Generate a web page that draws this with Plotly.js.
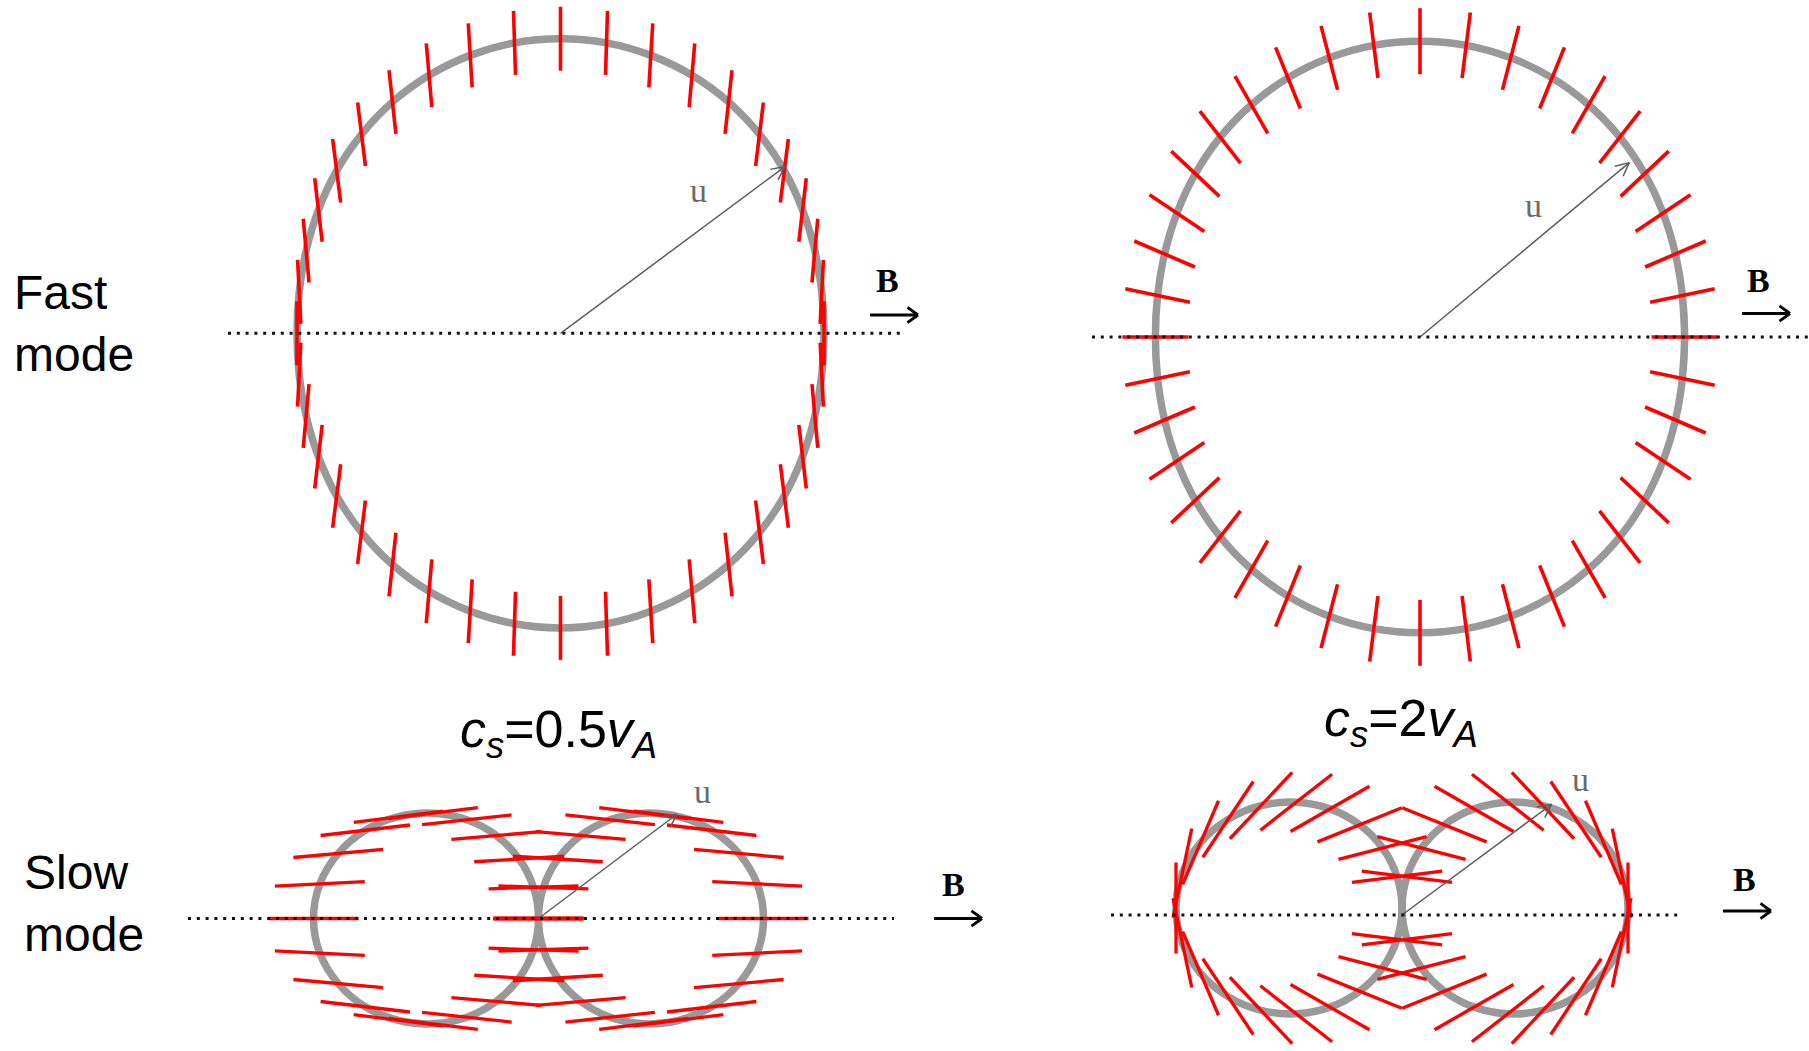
<!DOCTYPE html>
<html><head><meta charset="utf-8">
<script src="https://cdn.plot.ly/plotly-3.0.1.min.js"></script>
<style>html,body{margin:0;padding:0;background:#fff;overflow:hidden}#chart{width:1809px;height:1051px}</style>
</head><body><div id="chart"></div>
<script>
// ---- data ----
// polar angle of the samples (degrees from B), first quadrant; other quadrants by mirror symmetry
const thetaDeg = [0, 9, 18, 27, 36, 45, 54, 63, 72, 81, 90];

// fast mode, cs = 0.5 vA : phase speed (units of vA) and displacement direction (deg)
const fastLowSpeed = [1.000, 1.004, 1.015, 1.031, 1.050, 1.068, 1.085, 1.099, 1.109, 1.116, 1.118];
const fastLowDir   = [90, 87.1, 84.8, 83.3, 82.8, 83.0, 83.8, 85.0, 86.5, 88.2, 90];
// fast mode, cs = 2 vA
const fastHighSpeed = [2.000, 2.008, 2.030, 2.062, 2.099, 2.136, 2.169, 2.198, 2.219, 2.232, 2.236];
const fastHighDir   = [0, 11.9, 23.2, 33.7, 43.2, 52.0, 60.2, 68.0, 75.5, 82.8, 90];
// slow mode, cs = 0.5 vA
const slowLowSpeed = [0.500, 0.492, 0.468, 0.432, 0.385, 0.331, 0.271, 0.207, 0.139, 0.070, 0];
const slowLowDir   = [0, -2.9, -5.2, -6.7, -7.2, -7.0, -6.2, -5.0, -3.5, -1.8, 0];
// slow mode, cs = 2 vA (no mark at the origin)
const slowHighSpeed = [1.000, 0.984, 0.937, 0.864, 0.771, 0.662, 0.542, 0.413, 0.279, 0.140, 0];
const slowHighDir   = [90, -78.1, -66.8, -56.3, -46.8, -38.0, -29.8, -22.0, -14.5, -7.2, null];

// the u vectors: direction (deg) and length (units of vA)
const uAngleDeg = [36.6, 39.8, 37.0, 36.5];
const uLength   = [1.061, 2.059, 0.385, 0.824];

const rowLabels = ['Fast<br>mode', 'Slow<br>mode'];
const caseLabels = ['<i>c</i><sub><i>s</i></sub>=0.5<i>v</i><sub><i>A</i></sub>',
                    '<i>c</i><sub><i>s</i></sub>=2<i>v</i><sub><i>A</i></sub>'];
const vecLabel = 'u';
const fieldLabel = 'B';

// ---- layout / styling ----
const W = 1809, H = 1051;
const PX = v => v / W, PY = v => 1 - v / H;

const panels = [
  {xa:'x',  ya:'y',  ox:560.5, oy:333.3, s:263.5, tick:64, tw:3.6, kind:'fast', speed:fastLowSpeed,  dir:fastLowDir,
   dot:[228, 903, 333.3], tailPx:0, uLab:[698, 190], bLab:[887.5, 280], bArr:[918, 315]},
  {xa:'x2', ya:'y2', ox:1420,  oy:337,   s:132.3, tick:66, tw:3.6, kind:'fast', speed:fastHighSpeed, dir:fastHighDir,
   dot:[1092, 1809, 337], tailPx:0, uLab:[1533, 205], bLab:[1758.5, 280], bArr:[1790, 313.5]},
  {xa:'x3', ya:'y3', ox:538.5, oy:918.5, s:450,   tick:90, tw:3.3, kind:'slow', speed:slowLowSpeed,  dir:slowLowDir,
   dot:[188, 894, 918.5], tailPx:0, uLab:[702, 791], bLab:[953, 884], bArr:[982, 918.5]},
  {xa:'x4', ya:'y4', ox:1402,  oy:908,   s:226,   tick:91, tw:3.3, kind:'slow', speed:slowHighSpeed, dir:slowHighDir,
   dot:[1111, 1682, 915], tailPx:7, uLab:[1580, 779], bLab:[1744, 879], bArr:[1771, 911]}
];

const rad = d => d * Math.PI / 180;
const neg = v => v == null ? null : -v;

function buildBranches(speed, dir, kind) {
  const n = thetaDeg.length;
  if (kind === 'fast') {
    const loop = [];
    for (let i = 0; i < n; i++) loop.push({th: thetaDeg[i], r: speed[i], phi: dir[i]});
    for (let i = n - 2; i >= 0; i--) loop.push({th: 180 - thetaDeg[i], r: speed[i], phi: dir[i] == null ? null : 180 - dir[i]});
    for (let i = 1; i < n; i++) loop.push({th: 180 + thetaDeg[i], r: speed[i], phi: dir[i]});
    for (let i = n - 2; i >= 0; i--) loop.push({th: 360 - thetaDeg[i], r: speed[i], phi: neg(dir[i])});
    const ticks = loop.slice(0, loop.length - 1);
    const curve = [loop[loop.length - 2]].concat(loop, [loop[1]]);
    return {curves: [curve], ticks: ticks};
  }
  const right = [];
  for (let i = n - 1; i >= 1; i--) right.push({th: -thetaDeg[i], r: speed[i], phi: neg(dir[i])});
  for (let i = 0; i < n; i++) right.push({th: thetaDeg[i], r: speed[i], phi: dir[i]});
  const left = right.map(p => ({th: 180 - p.th, r: p.r, phi: p.phi == null ? null : 180 - p.phi}));
  return {curves: [right, left], ticks: right.concat(left)};
}

// arrow (shaft + open two-armed head) as line segments in a panel's own units
function arrowXY(x0, y0, x1, y1, armUnits, halfAngDeg) {
  const a = Math.atan2(y1 - y0, x1 - x0);
  const xs = [x0, x1, null], ys = [y0, y1, null];
  [1, -1].forEach(sg => {
    const b = a + Math.PI + sg * rad(halfAngDeg);
    xs.push(x1, x1 + armUnits * Math.cos(b), null);
    ys.push(y1, y1 + armUnits * Math.sin(b), null);
  });
  return {xs, ys};
}

const traces = [];
const layout = {
  width: W, height: H, margin: {l:0, r:0, t:0, b:0},
  paper_bgcolor: '#fff', plot_bgcolor: 'rgba(0,0,0,0)', showlegend: false,
  shapes: [], annotations: []
};

panels.forEach((p, k) => {
  const xName = k === 0 ? 'xaxis' : 'xaxis' + (k + 1);
  const yName = k === 0 ? 'yaxis' : 'yaxis' + (k + 1);
  layout[xName] = {range: [-p.ox / p.s, (W - p.ox) / p.s], visible: false, fixedrange: true, domain: [0, 1]};
  layout[yName] = {range: [(p.oy - H) / p.s, p.oy / p.s], visible: false, fixedrange: true, domain: [0, 1]};
  if (k > 0) { layout[xName].overlaying = 'x'; layout[yName].overlaying = 'y';
               layout[xName].anchor = p.ya; layout[yName].anchor = p.xa; }

  const b = buildBranches(p.speed, p.dir, p.kind);
  b.curves.forEach(c => {
    traces.push({type: 'scatter', mode: 'lines', xaxis: p.xa, yaxis: p.ya, hoverinfo: 'skip',
      x: c.map(q => q.r * Math.cos(rad(q.th))), y: c.map(q => q.r * Math.sin(rad(q.th))),
      line: {color: 'rgb(153,153,153)', width: 7.5, shape: 'spline', smoothing: 1}});
  });
  const xs = [], ys = [], h = p.tick / 2 / p.s;
  b.ticks.forEach(q => {
    if (q.phi == null) return;
    const cx = q.r * Math.cos(rad(q.th)), cy = q.r * Math.sin(rad(q.th));
    const dx = h * Math.cos(rad(q.phi)), dy = h * Math.sin(rad(q.phi));
    xs.push(cx - dx, cx + dx, null); ys.push(cy - dy, cy + dy, null);
  });
  traces.push({type: 'scatter', mode: 'lines', xaxis: p.xa, yaxis: p.ya, hoverinfo: 'skip',
    x: xs, y: ys, line: {color: 'rgb(255,0,0)', width: p.tw}});

  // dotted B line
  layout.shapes.push({type: 'line', xref: 'paper', yref: 'paper', layer: 'above',
    x0: PX(p.dot[0]), x1: PX(p.dot[1]), y0: PY(p.dot[2]), y1: PY(p.dot[2]),
    line: {color: '#111', width: 3, dash: '3px,5.8px'}});

  // u vector
  const tx = 0, ty = -p.tailPx / p.s;
  const ua = arrowXY(tx, ty, tx + uLength[k] * Math.cos(rad(uAngleDeg[k])),
                     ty + uLength[k] * Math.sin(rad(uAngleDeg[k])), 15 / p.s, 26);
  traces.push({type: 'scatter', mode: 'lines', xaxis: p.xa, yaxis: p.ya, hoverinfo: 'skip',
    x: ua.xs, y: ua.ys, line: {color: '#5c5c5c', width: 1.5}});
  layout.annotations.push({xref: 'paper', yref: 'paper', x: PX(p.uLab[0]), y: PY(p.uLab[1]),
    xanchor: 'center', yanchor: 'middle', text: vecLabel, showarrow: false,
    font: {family: 'Liberation Serif, DejaVu Serif, serif', size: 34, color: '#6a6a6a'}});

  // B label and arrow
  layout.annotations.push({xref: 'paper', yref: 'paper', x: PX(p.bLab[0]), y: PY(p.bLab[1]),
    xanchor: 'center', yanchor: 'middle', text: '<b>' + fieldLabel + '</b>', showarrow: false,
    font: {family: 'Liberation Serif, DejaVu Serif, serif', size: 34, color: '#000'}});
  const bx1 = (p.bArr[0] - p.ox) / p.s, by = (p.oy - p.bArr[1]) / p.s, bx0 = bx1 - 48 / p.s;
  const ba = arrowXY(bx0, by, bx1, by, 13 / p.s, 36);
  traces.push({type: 'scatter', mode: 'lines', xaxis: p.xa, yaxis: p.ya, hoverinfo: 'skip',
    x: ba.xs, y: ba.ys, line: {color: '#000', width: 2.8}});
});

// row labels
[[12, 324], [22, 903]].forEach((pos, i) => {
  layout.annotations.push({xref: 'paper', yref: 'paper', x: PX(pos[0]), y: PY(pos[1]),
    xanchor: 'left', yanchor: 'middle', align: 'left', text: rowLabels[i], showarrow: false,
    font: {family: 'Liberation Sans, Arial, sans-serif', size: 48, color: '#000'}});
});
// case labels
[[458, 733], [1322, 722]].forEach((pos, i) => {
  layout.annotations.push({xref: 'paper', yref: 'paper', x: PX(pos[0]), y: PY(pos[1]),
    xanchor: 'left', yanchor: 'middle', text: caseLabels[i], showarrow: false,
    font: {family: 'Liberation Sans, Arial, sans-serif', size: 52, color: '#000'}});
});

Plotly.newPlot('chart', traces, layout, {staticPlot: true, displayModeBar: false});
</script></body></html>
